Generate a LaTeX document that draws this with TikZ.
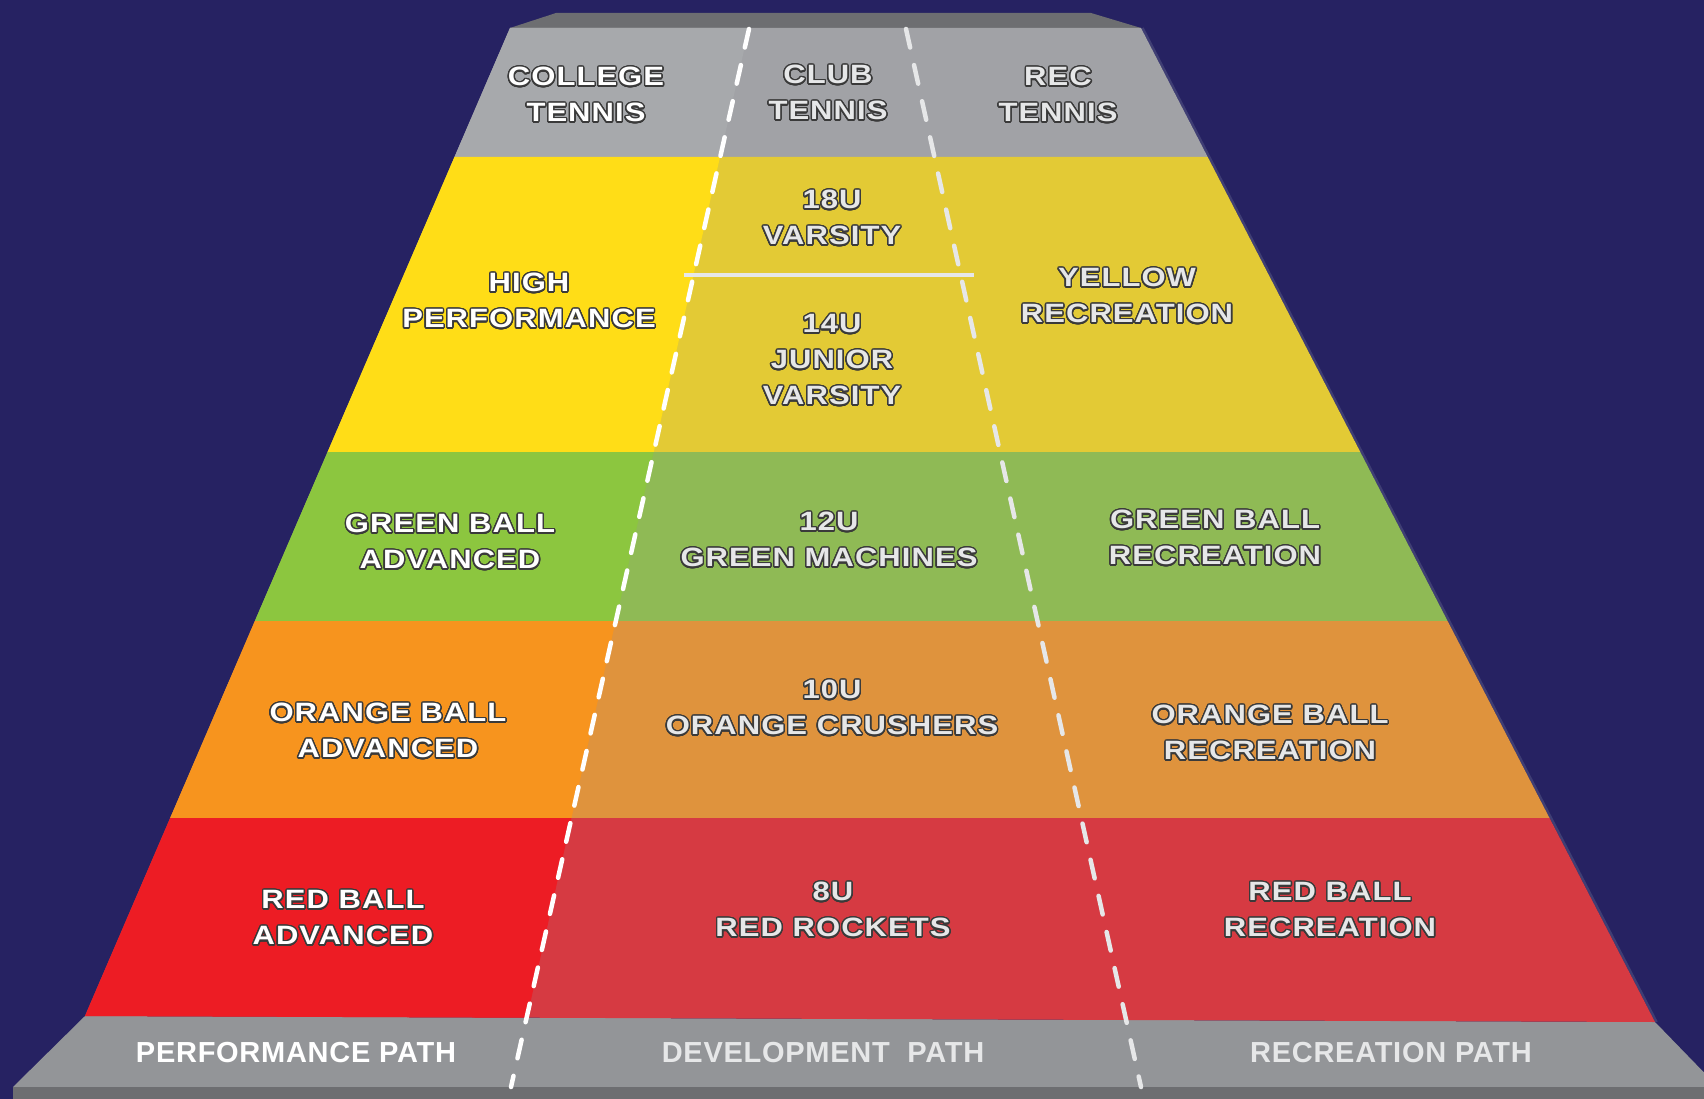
\documentclass[tikz,border=0pt]{standalone}
\usepackage{fontspec}
\setmainfont{Liberation Sans}
\newfontfamily\lblfont{Liberation Sans}[LetterSpace=4,FakeStretch=1.17]
\newfontfamily\basefont{Liberation Sans}[LetterSpace=2.5]
\usepackage[copies]{contour}
\contourlength{1.4pt}
\contournumber{24}
\definecolor{navy}{HTML}{262262}
\definecolor{capdark}{HTML}{6D6E71}
\definecolor{greyL}{HTML}{A7A9AC}
\definecolor{greyM}{HTML}{A1A2A6}
\definecolor{yelL}{HTML}{FFDD17}
\definecolor{yelM}{HTML}{E3CA35}
\definecolor{grnL}{HTML}{8CC63F}
\definecolor{grnM}{HTML}{8FBA55}
\definecolor{orgL}{HTML}{F7941E}
\definecolor{orgM}{HTML}{DF933D}
\definecolor{redL}{HTML}{ED1C24}
\definecolor{redM}{HTML}{D63A42}
\definecolor{basegrey}{HTML}{939598}
\definecolor{basedark}{HTML}{6D6E71}
\definecolor{olc}{HTML}{3A3A3A}
\definecolor{ltgrey}{HTML}{E6E7E8}
\definecolor{edgeshade}{HTML}{3F3E74}
\newcommand\ol[1]{\contour{olc}{#1}}
\begin{document}
\begin{tikzpicture}[x=1pt,y=-1pt,
  lbl/.style={align=center, inner sep=0pt, text=white, yshift=-1.5pt,
    font=\lblfont\bfseries\fontsize{26.5}{36}\selectfont},
  lblm/.style={lbl, text=ltgrey},
  basel/.style={inner sep=0pt, text=ltgrey,
    font=\basefont\bfseries\fontsize{29}{34}\selectfont},
  dashline/.style={line width=4.5pt, line cap=round, dash pattern=on 19pt off 18pt}]
\fill[navy] (0,0) rectangle (1704,1099);
\useasboundingbox (0,0) rectangle (1704,1099);
% base
\fill[basegrey] (85,1016) -- (1655,1022) -- (1720,1089) -- (13,1087) -- cycle;
\fill[basedark] (13,1087) rectangle (1704,1099);
% top cap
\fill[capdark] (510,28) -- (556,13) -- (1091,13) -- (1141,28) -- cycle;
% right edge shade
\draw[edgeshade, line width=2.5pt] (1142.5,28) -- (1656.5,1022);
% bands (muted full width)
\fill[greyM] (510,28) -- (1141,28) -- (1207.7,157) -- (454.5,157) -- cycle;
\fill[yelM] (454.5,157) -- (1207.7,157) -- (1360.3,452) -- (327.6,452) -- cycle;
\fill[grnM] (327.6,452) -- (1360.3,452) -- (1447.6,621) -- (254.9,621) -- cycle;
\fill[orgM] (254.9,621) -- (1447.6,621) -- (1549.5,818) -- (170.2,818) -- cycle;
\fill[redM] (170.2,818) -- (1549.5,818) -- (1655,1022) -- (85,1016) -- cycle;
% left parts (saturated)
\fill[greyL] (510,28) -- (749,28) -- (720,157) -- (454.5,157) -- cycle;
\fill[yelL] (454.5,157) -- (720,157) -- (653.7,452) -- (327.6,452) -- cycle;
\fill[grnL] (327.6,452) -- (653.7,452) -- (615.7,621) -- (254.9,621) -- cycle;
\fill[orgL] (254.9,621) -- (615.7,621) -- (571.5,818) -- (170.2,818) -- cycle;
\fill[redL] (170.2,818) -- (571.5,818) -- (527,1017.7) -- (85,1016) -- cycle;
% separator 18U / 14U
\coordinate (sepL) at (684,275);
\coordinate (sepR) at (974,275);
\draw[ltgrey, line width=4.5pt] (sepL) -- (sepR);
% dashed path lines
\coordinate (d1t) at (749,29);
\coordinate (d1b) at (511,1087);
\coordinate (d2t) at (906,29);
\coordinate (d2b) at (1141,1087);
\draw[dashline, white] (d1t) -- (d1b);
\draw[dashline, ltgrey] (d2t) -- (d2b);
% labels
\node[lbl]  (college) at (586,94)  {\ol{COLLEGE}\\\ol{TENNIS}};
\node[lblm] (club)    at (828,92)  {\ol{CLUB}\\\ol{TENNIS}};
\node[lblm] (rec)     at (1058,94) {\ol{REC}\\\ol{TENNIS}};
\node[lblm] (u18)     at (832,217) {\ol{18U}\\\ol{VARSITY}};
\node[lbl]  (high)    at (529,300) {\ol{HIGH}\\\ol{PERFORMANCE}};
\node[lblm] (u14)     at (832,359) {\ol{14U}\\\ol{JUNIOR}\\\ol{VARSITY}};
\node[lblm] (yrec)    at (1127,295) {\ol{YELLOW}\\\ol{RECREATION}};
\node[lbl]  (gadv)    at (450,541) {\ol{GREEN BALL}\\\ol{ADVANCED}};
\node[lblm] (u12)     at (829,539) {\ol{12U}\\\ol{GREEN MACHINES}};
\node[lblm] (grec)    at (1215,537) {\ol{GREEN BALL}\\\ol{RECREATION}};
\node[lbl]  (oadv)    at (388,730) {\ol{ORANGE BALL}\\\ol{ADVANCED}};
\node[lblm] (u10)     at (832,707) {\ol{10U}\\\ol{ORANGE CRUSHERS}};
\node[lblm] (orec)    at (1270,732) {\ol{ORANGE BALL}\\\ol{RECREATION}};
\node[lbl]  (radv)    at (343,917) {\ol{RED BALL}\\\ol{ADVANCED}};
\node[lblm] (u8)      at (833,909) {\ol{8U}\\\ol{RED ROCKETS}};
\node[lblm] (rrec)    at (1330,909) {\ol{RED BALL}\\\ol{RECREATION}};
\node[basel, text=white] (pp) at (296,1053) {PERFORMANCE PATH};
\node[basel] (dp) at (823,1053) {DEVELOPMENT\ \ PATH};
\node[basel] (rp) at (1391,1053) {RECREATION PATH};
\end{tikzpicture}
\end{document}
